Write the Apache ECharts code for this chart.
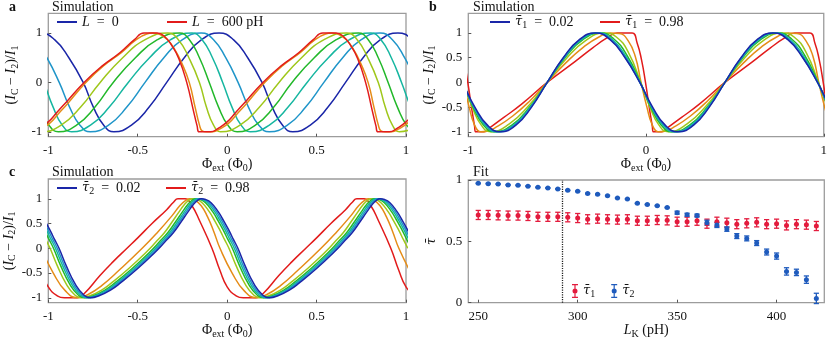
<!DOCTYPE html>
<html><head><meta charset="utf-8">
<script src="https://cdn.jsdelivr.net/npm/echarts@6/dist/echarts.min.js"></script>
<style>html,body{margin:0;padding:0;background:#fff}#c{width:830px;height:341px}</style>
</head><body><div id="c"></div>
<script>
// ---------- Panel a : L = 0 ... 600 pH (points [phi, y]) ----------
const aL0 = [[-1.143,0.866],[-1.045,1],[-0.965,0.866],[-0.885,0.5],[-0.805,0],[-0.748,-0.5],[-0.690,-0.866],[-0.633,-1],[-0.535,-0.866],[-0.436,-0.5],[-0.338,0],[-0.240,0.5],[-0.143,0.866],[-0.045,1],[0.035,0.866],[0.115,0.5],[0.195,0],[0.252,-0.5],[0.310,-0.866],[0.367,-1],[0.465,-0.866],[0.564,-0.5],[0.662,0],[0.760,0.5],[0.857,0.866],[0.955,1],[1.035,0.866],[1.115,0.5]];
const aL1 = [[-1.145,1],[-1.076,0.866],[-1.008,0.5],[-0.939,0],[-0.881,-0.5],[-0.823,-0.866],[-0.765,-1],[-0.663,-0.866],[-0.561,-0.5],[-0.459,0],[-0.354,0.5],[-0.250,0.866],[-0.145,1],[-0.076,0.866],[-0.008,0.5],[0.061,0],[0.119,-0.5],[0.177,-0.866],[0.235,-1],[0.337,-0.866],[0.439,-0.5],[0.541,0],[0.646,0.5],[0.750,0.866],[0.855,1],[0.924,0.866],[0.992,0.5],[1.061,0]];
const aL2 = [[-1.197,1],[-1.140,0.866],[-1.082,0.5],[-1.025,0],[-0.973,-0.5],[-0.922,-0.866],[-0.870,-1],[-0.764,-0.866],[-0.659,-0.5],[-0.553,0],[-0.434,0.5],[-0.316,0.866],[-0.197,1],[-0.140,0.866],[-0.082,0.5],[-0.025,0],[0.027,-0.5],[0.078,-0.866],[0.130,-1],[0.236,-0.866],[0.341,-0.5],[0.447,0],[0.566,0.5],[0.684,0.866],[0.803,1],[0.860,0.866],[0.918,0.5],[0.975,0],[1.027,-0.5],[1.078,-0.866]];
const aL3 = [[-1.155,0.5],[-1.100,0],[-1.048,-0.5],[-0.996,-0.866],[-0.944,-1],[-0.842,-0.866],[-0.739,-0.5],[-0.637,0],[-0.513,0.5],[-0.390,0.866],[-0.266,1],[-0.211,0.866],[-0.155,0.5],[-0.100,0],[-0.048,-0.5],[0.004,-0.866],[0.056,-1],[0.158,-0.866],[0.261,-0.5],[0.363,0],[0.487,0.5],[0.610,0.866],[0.734,1],[0.789,0.866],[0.845,0.5],[0.900,0],[0.952,-0.5],[1.004,-0.866],[1.056,-1]];
const aL4 = [[-1.155,0],[-1.116,-0.5],[-1.076,-0.866],[-1.037,-1],[-0.928,-0.866],[-0.819,-0.5],[-0.710,0],[-0.584,0.5],[-0.458,0.866],[-0.332,1],[-0.273,0.866],[-0.214,0.5],[-0.155,0],[-0.116,-0.5],[-0.076,-0.866],[-0.037,-1],[0.072,-0.866],[0.181,-0.5],[0.290,0],[0.416,0.5],[0.542,0.866],[0.668,1],[0.727,0.866],[0.786,0.5],[0.845,0],[0.884,-0.5],[0.924,-0.866],[0.963,-1],[1.072,-0.866]];
const aL5 = [[-1.178,-0.52],[-1.155,-0.86],[-1.14,-0.98],[-1.115,-1],[-1.08,-1],[-1.04,-0.94],[-0.99,-0.82],[-0.94,-0.62],[-0.89,-0.42],[-0.79,0],[-0.69,0.34],[-0.59,0.61],[-0.51,0.86],[-0.45,0.98],[-0.415,1],[-0.375,0.97],[-0.335,0.87],[-0.295,0.68],[-0.255,0.4],[-0.212,0],[-0.178,-0.52],[-0.155,-0.86],[-0.14,-0.98],[-0.115,-1],[-0.08,-1],[-0.04,-0.94],[0.01,-0.82],[0.06,-0.62],[0.11,-0.42],[0.21,0],[0.31,0.34],[0.41,0.61],[0.49,0.86],[0.55,0.98],[0.585,1],[0.625,0.97],[0.665,0.87],[0.705,0.68],[0.745,0.4],[0.788,0],[0.822,-0.52],[0.845,-0.86],[0.86,-0.98],[0.885,-1],[0.92,-1],[0.96,-0.94],[1.01,-0.82],[1.06,-0.62]];
const aL6 = [[-1.19,-0.55],[-1.168,-0.88],[-1.157,-1],[-1.092,-1],[-1.05,-0.93],[-1.0,-0.8],[-0.95,-0.6],[-0.9,-0.4],[-0.8,0],[-0.7,0.33],[-0.6,0.6],[-0.52,0.86],[-0.465,1],[-0.39,1],[-0.35,0.93],[-0.31,0.75],[-0.27,0.48],[-0.226,0],[-0.19,-0.55],[-0.168,-0.88],[-0.157,-1],[-0.092,-1],[-0.05,-0.93],[0.0,-0.8],[0.05,-0.6],[0.1,-0.4],[0.2,0],[0.3,0.33],[0.4,0.6],[0.48,0.86],[0.535,1],[0.61,1],[0.65,0.93],[0.69,0.75],[0.73,0.48],[0.774,0],[0.81,-0.55],[0.832,-0.88],[0.843,-1],[0.908,-1],[0.95,-0.93],[1.0,-0.8],[1.05,-0.6]];

// ---------- Panel b : tau1 = 0.02 ... 0.98 ----------
const bT0 = [[-1.118,0.5],[-1.035,0],[-0.963,-0.5],[-0.892,-0.866],[-0.820,-1],[-0.732,-0.866],[-0.644,-0.5],[-0.556,0],[-0.466,0.5],[-0.375,0.866],[-0.285,1],[-0.202,0.866],[-0.118,0.5],[-0.035,0],[0.037,-0.5],[0.108,-0.866],[0.180,-1],[0.268,-0.866],[0.356,-0.5],[0.444,0],[0.534,0.5],[0.625,0.866],[0.715,1],[0.798,0.866],[0.882,0.5],[0.965,0],[1.037,-0.5],[1.108,-0.866]];
const bT1 = [[-1.116,0.5],[-1.035,0],[-0.967,-0.5],[-0.898,-0.866],[-0.830,-1],[-0.739,-0.866],[-0.647,-0.5],[-0.556,0],[-0.463,0.5],[-0.371,0.866],[-0.278,1],[-0.197,0.866],[-0.116,0.5],[-0.035,0],[0.033,-0.5],[0.102,-0.866],[0.170,-1],[0.261,-0.866],[0.353,-0.5],[0.444,0],[0.537,0.5],[0.629,0.866],[0.722,1],[0.803,0.866],[0.884,0.5],[0.965,0],[1.033,-0.5],[1.102,-0.866]];
const bT2 = [[-1.112,0.52],[-1.034,0],[-0.969,-0.5],[-0.905,-0.866],[-0.840,-1],[-0.745,-0.866],[-0.651,-0.5],[-0.556,0],[-0.460,0.5],[-0.364,0.866],[-0.268,1],[-0.190,0.87],[-0.112,0.52],[-0.034,0],[0.031,-0.5],[0.095,-0.866],[0.160,-1],[0.255,-0.866],[0.349,-0.5],[0.444,0],[0.540,0.5],[0.636,0.866],[0.732,1],[0.810,0.87],[0.888,0.52],[0.966,0],[1.031,-0.5],[1.095,-0.866]];
const bT3 = [[-1.106,0.54],[-1.032,0],[-0.973,-0.5],[-0.914,-0.866],[-0.855,-1],[-0.755,-0.866],[-0.655,-0.5],[-0.556,0],[-0.456,0.5],[-0.355,0.866],[-0.255,1],[-0.181,0.88],[-0.106,0.54],[-0.032,0],[0.027,-0.5],[0.086,-0.866],[0.145,-1],[0.245,-0.866],[0.345,-0.5],[0.444,0],[0.544,0.5],[0.645,0.866],[0.745,1],[0.819,0.88],[0.894,0.54],[0.968,0],[1.027,-0.5],[1.086,-0.866]];
const bT4 = [[-1.098,0.6],[-1.030,0],[-0.978,-0.5],[-0.927,-0.866],[-0.875,-1],[-0.769,-0.84],[-0.662,-0.48],[-0.556,0],[-0.449,0.48],[-0.342,0.84],[-0.235,1],[-0.167,0.92],[-0.098,0.6],[-0.030,0],[0.022,-0.5],[0.073,-0.866],[0.125,-1],[0.231,-0.84],[0.338,-0.48],[0.444,0],[0.551,0.48],[0.658,0.84],[0.765,1],[0.833,0.92],[0.902,0.6],[0.970,0],[1.022,-0.5],[1.073,-0.866]];
const bT5 = [[-1.1,0.84],[-1.06,0.52],[-1.028,0],[-0.995,-0.5],[-0.965,-0.86],[-0.93,-1],[-0.895,-0.99],[-0.85,-0.92],[-0.75,-0.68],[-0.65,-0.36],[-0.556,0],[-0.45,0.4],[-0.35,0.72],[-0.26,0.93],[-0.2,1],[-0.15,0.99],[-0.1,0.84],[-0.06,0.52],[-0.028,0],[0.005,-0.5],[0.035,-0.86],[0.07,-1],[0.105,-0.99],[0.15,-0.92],[0.25,-0.68],[0.35,-0.36],[0.444,0],[0.55,0.4],[0.65,0.72],[0.74,0.93],[0.8,1],[0.85,0.99],[0.9,0.84],[0.94,0.52],[0.972,0],[1.005,-0.5],[1.035,-0.86]];
const bT6 = [[-1.163,1],[-1.078,1],[-1.05,0.8],[-1.025,0.45],[-1.003,0],[-0.98,-0.55],[-0.965,-0.88],[-0.958,-1],[-0.912,-1],[-0.88,-0.92],[-0.8,-0.71],[-0.7,-0.44],[-0.556,0],[-0.4,0.42],[-0.3,0.7],[-0.22,0.9],[-0.163,1],[-0.078,1],[-0.05,0.8],[-0.025,0.45],[-0.003,0],[0.02,-0.55],[0.035,-0.88],[0.042,-1],[0.088,-1],[0.12,-0.92],[0.2,-0.71],[0.3,-0.44],[0.444,0],[0.6,0.42],[0.7,0.7],[0.78,0.9],[0.837,1],[0.922,1],[0.95,0.8],[0.975,0.45],[0.997,0],[1.02,-0.55],[1.035,-0.88]];

// ---------- Panel c : tau2 = 0.02 ... 0.98 ----------
const cBandY = [0.985,0.92,0.74,0.56,0.36,0.18,0,-0.35,-0.72,-0.95,-1,-0.95,-0.84,-0.71,-0.41,-0.07,0.12,0.32,0.52,0.73,0.88,0.97,1,0.985,0.92,0.74,0.56,0.36,0.18,0,-0.35,-0.72,-0.95,-1,-0.95,-0.84,-0.71,-0.41,-0.07,0.12,0.32,0.52,0.73,0.88,0.97,1,0.985,0.92,0.74,0.56,0.36,0.18,0];
const cX0 = [-1.12,-1.09,-1.05,-1.02,-0.99,-0.965,-0.94,-0.9,-0.85,-0.8,-0.765,-0.71,-0.65,-0.6,-0.5,-0.4,-0.35,-0.3,-0.26,-0.22,-0.19,-0.165,-0.145,-0.12,-0.09,-0.05,-0.02,0.01,0.035,0.06,0.1,0.15,0.2,0.235,0.29,0.35,0.4,0.5,0.6,0.65,0.7,0.74,0.78,0.81,0.835,0.855,0.88,0.91,0.95,0.98,1.01,1.035,1.06];
const cX1 = [-1.13,-1.1,-1.06,-1.03,-1.0,-0.975,-0.95,-0.91,-0.86,-0.81,-0.775,-0.72,-0.66,-0.61,-0.51,-0.41,-0.36,-0.31,-0.27,-0.23,-0.2,-0.175,-0.155,-0.13,-0.1,-0.06,-0.03,0.0,0.025,0.05,0.09,0.14,0.19,0.225,0.28,0.34,0.39,0.49,0.59,0.64,0.69,0.73,0.77,0.8,0.825,0.845,0.87,0.9,0.94,0.97,1.0,1.025,1.05];
const cX2 = [-1.14,-1.11,-1.07,-1.04,-1.01,-0.985,-0.96,-0.92,-0.87,-0.82,-0.785,-0.73,-0.67,-0.62,-0.52,-0.42,-0.37,-0.32,-0.28,-0.24,-0.21,-0.185,-0.165,-0.14,-0.11,-0.07,-0.04,-0.01,0.015,0.04,0.08,0.13,0.18,0.215,0.27,0.33,0.38,0.48,0.58,0.63,0.68,0.72,0.76,0.79,0.815,0.835,0.86,0.89,0.93,0.96,0.99,1.015,1.04];
const cX3 = [-1.151,-1.121,-1.081,-1.051,-1.021,-0.996,-0.971,-0.931,-0.881,-0.831,-0.796,-0.741,-0.681,-0.631,-0.531,-0.431,-0.381,-0.331,-0.291,-0.251,-0.221,-0.196,-0.176,-0.151,-0.121,-0.081,-0.051,-0.021,0.004,0.029,0.069,0.119,0.169,0.204,0.259,0.319,0.369,0.469,0.569,0.619,0.669,0.709,0.749,0.779,0.804,0.824,0.849,0.879,0.919,0.949,0.979,1.004,1.029];
const cX4 = [-1.17,-1.14,-1.1,-1.07,-1.04,-1.015,-0.99,-0.95,-0.9,-0.85,-0.815,-0.76,-0.7,-0.65,-0.55,-0.45,-0.4,-0.35,-0.31,-0.27,-0.24,-0.215,-0.195,-0.17,-0.14,-0.1,-0.07,-0.04,-0.015,0.01,0.05,0.1,0.15,0.185,0.24,0.3,0.35,0.45,0.55,0.6,0.65,0.69,0.73,0.76,0.785,0.805,0.83,0.86,0.9,0.93,0.96,0.985,1.01];
const cT5 = [[-1.18,0.97],[-1.145,0.86],[-1.11,0.64],[-1.075,0.34],[-1.04,0],[-0.972,-0.5],[-0.903,-0.866],[-0.835,-1],[-0.78,-0.94],[-0.7,-0.75],[-0.6,-0.43],[-0.475,0],[-0.39,0.32],[-0.31,0.65],[-0.265,0.86],[-0.235,0.96],[-0.21,1],[-0.18,0.97],[-0.145,0.86],[-0.11,0.64],[-0.075,0.34],[-0.04,0],[0.028,-0.5],[0.097,-0.866],[0.165,-1],[0.22,-0.94],[0.3,-0.75],[0.4,-0.43],[0.525,0],[0.61,0.32],[0.69,0.65],[0.735,0.86],[0.765,0.96],[0.79,1],[0.82,0.97],[0.855,0.86],[0.89,0.64],[0.925,0.34],[0.96,0],[1.028,-0.5]];
const cT6 = [[-1.2,0.88],[-1.152,0.54],[-1.085,0],[-1.04,-0.45],[-1.0,-0.78],[-0.95,-0.96],[-0.91,-1],[-0.84,-1],[-0.8,-0.92],[-0.711,-0.55],[-0.64,-0.28],[-0.56,0],[-0.5,0.21],[-0.42,0.5],[-0.338,0.78],[-0.3,0.93],[-0.275,1],[-0.235,1],[-0.2,0.88],[-0.152,0.54],[-0.085,0],[-0.04,-0.45],[0.0,-0.78],[0.05,-0.96],[0.09,-1],[0.16,-1],[0.2,-0.92],[0.289,-0.55],[0.36,-0.28],[0.44,0],[0.5,0.21],[0.58,0.5],[0.662,0.78],[0.7,0.93],[0.725,1],[0.765,1],[0.8,0.88],[0.848,0.54],[0.915,0],[0.96,-0.45],[1.0,-0.78],[1.05,-0.96]];

// ---------- Panel d : fit ----------
const LK = [250,255,260,265,270,275,280,285,290,295,300,305,310,315,320,325,330,335,340,345,350,355,360,365,370,375,380,385,390,395,400,405,410,415,420];
const tau1 = [0.715,0.715,0.712,0.71,0.71,0.707,0.70,0.70,0.70,0.696,0.69,0.68,0.685,0.68,0.677,0.68,0.668,0.668,0.674,0.671,0.66,0.66,0.668,0.644,0.66,0.652,0.64,0.647,0.655,0.64,0.644,0.63,0.64,0.636,0.625];
const tau1Err = [0.037,0.037,0.037,0.037,0.037,0.037,0.037,0.037,0.037,0.037,0.037,0.037,0.037,0.037,0.037,0.037,0.037,0.037,0.037,0.037,0.037,0.037,0.037,0.037,0.037,0.037,0.037,0.037,0.037,0.037,0.037,0.037,0.037,0.037,0.037];
const tau2 = [0.973,0.97,0.967,0.96,0.957,0.95,0.94,0.935,0.927,0.916,0.908,0.89,0.883,0.872,0.853,0.845,0.81,0.80,0.79,0.775,0.734,0.717,0.71,0.652,0.633,0.60,0.543,0.524,0.486,0.413,0.38,0.255,0.247,0.188,0.035];
const tau2Err = [0.003,0.003,0.003,0.003,0.003,0.003,0.003,0.003,0.003,0.003,0.003,0.003,0.003,0.003,0.003,0.003,0.003,0.003,0.003,0.003,0.012,0.012,0.012,0.02,0.02,0.018,0.02,0.02,0.02,0.024,0.025,0.03,0.026,0.03,0.042];
const LK_MARK = 292;

const PHI_TICKS_A = [-1,-0.5,0,0.5,1];
const PHI_TICKS_B = [-1,0,1];
const Y_TICKS_A = [-1,0,1];
const Y_TICKS_BC = [-1,-0.5,0,0.5,1];
const LK_TICKS = [250,300,350,400];
const TAU_TICKS = [0,0.5,1];

const COLORS = ['#1a26a8','#1f95c9','#16b6a0','#22b82a','#9fc71b','#e58c17','#e21b1b'];
const RED_D = '#e31b3d', BLUE_D = '#1f5bbd';
const FONT = '"Liberation Serif","DejaVu Serif",serif';
const MFONT = '"DejaVu Serif",serif';
const TXT = '#111';

const RICH = {
  i:{fontFamily:FONT,fontStyle:'italic',fontSize:14,color:TXT},
  t:{fontFamily:MFONT,fontStyle:'italic',fontSize:13,color:TXT},
  s:{fontFamily:FONT,fontSize:10,color:TXT,padding:[7,0,0,0]}
};

const chart = echarts.init(document.getElementById('c'), null, {renderer:'canvas'});

function xAx(gi,min,max,ticks,name,gap){
  return {type:'value',gridIndex:gi,min:min,max:max,
    axisLine:{show:false,onZero:false},splitLine:{show:false},
    axisTick:{show:true,inside:true,length:3,customValues:ticks,lineStyle:{color:'#555',width:1}},
    axisLabel:{customValues:ticks,fontFamily:FONT,fontSize:13,color:TXT,margin:7,formatter:v=>String(v)},
    name:name,nameLocation:'middle',nameGap:gap,
    nameTextStyle:{fontFamily:FONT,fontSize:14,color:TXT,rich:RICH}};
}
function yAx(gi,min,max,ticks,name,gap){
  return {type:'value',gridIndex:gi,min:min,max:max,
    axisLine:{show:false,onZero:false},splitLine:{show:false},
    axisTick:{show:true,inside:true,length:3,customValues:ticks,lineStyle:{color:'#555',width:1}},
    axisLabel:{customValues:ticks,fontFamily:FONT,fontSize:13,color:TXT,margin:6,formatter:v=>String(v)},
    name:name,nameLocation:'middle',nameGap:gap,
    nameTextStyle:{fontFamily:FONT,fontSize:14,color:TXT,rich:RICH}};
}
function line(name,data,color,idx){
  return {type:'line',name:name,data:data,xAxisIndex:idx,yAxisIndex:idx,
    showSymbol:false,symbol:'none',smooth:0.5,clip:true,silent:true,
    lineStyle:{color:color,width:1.5},itemStyle:{color:color}};
}
const zip = (xs,ys)=>xs.map((x,i)=>[x,ys[i]]);

const series = [];
[aL0,aL1,aL2,aL3,aL4,aL5,aL6].forEach((d,k)=>series.push(line('aL'+k,d,COLORS[k],0)));
const bList=[bT0,bT1,bT2,bT3,bT4,bT5,bT6];
for(let k=6;k>=0;k--) series.push(line('bT'+k,bList[k],COLORS[k],1));
const cList=[zip(cX0,cBandY),zip(cX1,cBandY),zip(cX2,cBandY),zip(cX3,cBandY),zip(cX4,cBandY),cT5,cT6];
for(let k=6;k>=0;k--) series.push(line('cT'+k,cList[k],COLORS[k],2));

function errRender(color){
  return function(params,api){
    const x=api.value(0),y=api.value(1),e=api.value(2);
    const t=api.coord([x,y+e]), b=api.coord([x,y-e]); const w=2.6;
    const st={stroke:color,lineWidth:1.3};
    return {type:'group',children:[
      {type:'line',shape:{x1:t[0],y1:t[1],x2:b[0],y2:b[1]},style:st},
      {type:'line',shape:{x1:t[0]-w,y1:t[1],x2:t[0]+w,y2:t[1]},style:st},
      {type:'line',shape:{x1:b[0]-w,y1:b[1],x2:b[0]+w,y2:b[1]},style:st}]};
  };
}
series.push({type:'custom',name:'e1',xAxisIndex:3,yAxisIndex:3,renderItem:errRender(RED_D),
  data:LK.map((x,i)=>[x,tau1[i],tau1Err[i]]),encode:{x:0,y:1},silent:true,z:3});
series.push({type:'custom',name:'e2',xAxisIndex:3,yAxisIndex:3,renderItem:errRender(BLUE_D),
  data:LK.map((x,i)=>[x,tau2[i],tau2Err[i]]),encode:{x:0,y:1},silent:true,z:3});
series.push({type:'scatter',name:'tau1',xAxisIndex:3,yAxisIndex:3,symbolSize:5,
  data:zip(LK,tau1),itemStyle:{color:RED_D,opacity:1},z:4,silent:true});
series.push({type:'scatter',name:'tau2',xAxisIndex:3,yAxisIndex:3,symbolSize:5,
  data:zip(LK,tau2),itemStyle:{color:BLUE_D,opacity:1},z:4,silent:true,
  markLine:{silent:true,symbol:['none','none'],label:{show:false},animation:false,
    lineStyle:{color:'#222',type:[1.2,1.2],width:1.3},data:[{xAxis:LK_MARK}]}});

const TAUBAR='\u03C4\u0304';
const EQ='\u2002=\u2002';
const LEG_TEXT = {
  aL0:'{i|L}'+EQ+'0', aL6:'{i|L}'+EQ+'600 pH',
  bT0:'{t|'+TAUBAR+'}{s|1}'+EQ+'0.02', bT6:'{t|'+TAUBAR+'}{s|1}'+EQ+'0.98',
  cT0:'{t|'+TAUBAR+'}{s|2}'+EQ+'0.02', cT6:'{t|'+TAUBAR+'}{s|2}'+EQ+'0.98',
  tau1:'{t|'+TAUBAR+'}{s|1}', tau2:'{t|'+TAUBAR+'}{s|2}'
};
function leg(name,left,top){
  return {data:[name],left:left,top:top,icon:'rect',itemWidth:20,itemHeight:2,
    selectedMode:false,padding:0,formatter:n=>LEG_TEXT[n],
    textStyle:{fontFamily:FONT,fontSize:14,color:TXT,rich:RICH}};
}
const EB_ICON='path://M0,0H6V1.2H0Z M2.4,0H3.6V14H2.4Z M0,12.8H6V14H0Z M3,4.5A2.5,2.5,0,1,1,3,9.5A2.5,2.5,0,1,1,3,4.5Z';

const gridBase={show:true,borderColor:'#9c9c9c',borderWidth:1.3,backgroundColor:'transparent'};
function txt(s,x,y,bold){return {type:'text',left:x,top:y,style:{text:s,fontFamily:FONT,fontSize:14,fontWeight:bold?'bold':'normal',fill:TXT}};}

chart.setOption({
  animation:false,
  grid:[
    Object.assign({left:48.3,top:13.3,width:357.7,height:123.4},gridBase),
    Object.assign({left:468.3,top:13.3,width:356,height:123.4},gridBase),
    Object.assign({left:48.3,top:179,width:357.7,height:123.7},gridBase),
    Object.assign({left:468.3,top:180,width:356,height:122.7},gridBase)
  ],
  xAxis:[
    xAx(0,-1,1,PHI_TICKS_A,'\u03A6{s|ext} (\u03A6{s|0})',19),
    xAx(1,-1,1,PHI_TICKS_B,'\u03A6{s|ext} (\u03A6{s|0})',19),
    xAx(2,-1,1,PHI_TICKS_A,'\u03A6{s|ext} (\u03A6{s|0})',19),
    xAx(3,245,424,LK_TICKS,'{i|L}{s|K} (pH)',19)
  ],
  yAxis:[
    yAx(0,-1.1,1.4,Y_TICKS_A,'({i|I}{s|C} \u2212 {i|I}{s|2})/{i|I}{s|1}',28),
    yAx(1,-1.1,1.4,Y_TICKS_BC,'({i|I}{s|C} \u2212 {i|I}{s|2})/{i|I}{s|1}',28),
    yAx(2,-1.1,1.4,Y_TICKS_BC,'({i|I}{s|C} \u2212 {i|I}{s|2})/{i|I}{s|1}',28),
    yAx(3,0,1,TAU_TICKS,'{t|'+TAUBAR+'}',30)
  ],
  legend:[
    leg('aL0',57,15), leg('aL6',167,15),
    leg('bT0',490,15), leg('bT6',600,15),
    leg('cT0',57,181), leg('cT6',166,181),
    {data:['tau1','tau2'],left:572,top:284,icon:EB_ICON,itemWidth:6,itemHeight:14,itemGap:16,
     selectedMode:false,padding:0,formatter:n=>LEG_TEXT[n],
     textStyle:{fontFamily:FONT,fontSize:14,color:TXT,rich:RICH}}
  ],
  graphic:[
    txt('a',9,0,true), txt('Simulation',52,0,false),
    txt('b',429,0,true), txt('Simulation',473,0,false),
    txt('c',9,165,true), txt('Simulation',52,165,false),
    txt('Fit',473,165,false)
  ],
  series:series
});
</script></body></html>
